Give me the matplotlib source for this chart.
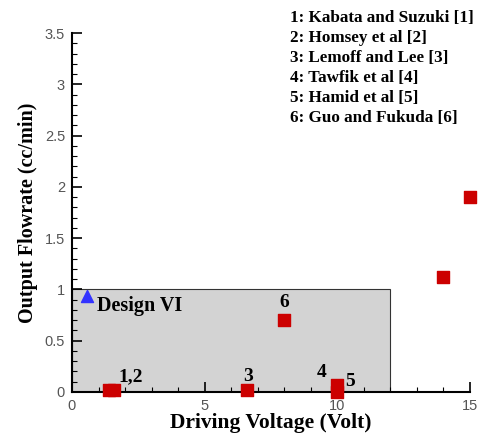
import matplotlib
matplotlib.use("Agg")
from matplotlib import pyplot as plt
from matplotlib.patches import Rectangle
from matplotlib.ticker import MultipleLocator

# literature data (squares)
lit_v = [1.4, 1.6, 6.6, 8.0, 10.0, 10.0, 14.0, 15.0]
lit_q = [0.02, 0.02, 0.02, 0.70, 0.07, 0.0, 1.12, 1.90]

# present design (triangle)
des_v = [0.55]
des_q = [0.94]

# design region box
box_v = 12.0
box_q = 1.0

# point labels
lab_text = ["1,2", "3", "4", "5", "6"]
lab_v = [2.2, 6.65, 9.4, 10.5, 8.0]
lab_q = [0.15, 0.15, 0.19, 0.10, 0.87]

refs = ["1: Kabata and Suzuki [1]", "2: Homsey et al [2]", "3: Lemoff and Lee [3]",
        "4: Tawfik et al [4]", "5: Hamid et al [5]", "6: Guo and Fukuda [6]"]

serif = "Liberation Serif"
sans = "Liberation Sans"

fig = plt.figure(figsize=(4.8, 4.37), dpi=100)
ax = fig.add_axes([0.15, 0.103, 0.829, 0.821])

ax.add_patch(Rectangle((0, 0), box_v, box_q, facecolor="#d3d3d3", edgecolor="#333333", lw=0.8, zorder=1))
ax.scatter(lit_v, lit_q, marker="s", s=80, color="#cc0000", zorder=3, clip_on=False)
ax.scatter(des_v, des_q, marker="^", s=75, color="#3333ff", zorder=3, clip_on=False)

for t, x, y in zip(lab_text, lab_v, lab_q):
    ax.text(x, y, t, ha="center", va="center", fontsize=14, fontweight="bold", family=serif, zorder=4)
ax.text(0.93, 0.84, "Design VI", ha="left", va="center", fontsize=14.5, fontweight="bold", family=serif, zorder=4)

for i, r in enumerate(refs):
    fig.text(0.604, 0.978 - i * 0.0458, r, ha="left", va="top", fontsize=12.3, fontweight="bold", family=serif)

ax.set_xlim(0, 15)
ax.set_ylim(0, 3.5)
ax.xaxis.set_minor_locator(MultipleLocator(1))
ax.yaxis.set_minor_locator(MultipleLocator(0.1))
ax.set_yticks([0, 0.5, 1, 1.5, 2, 2.5, 3, 3.5])
ax.set_yticklabels(["0", "0.5", "1", "1.5", "2", "2.5", "3", "3.5"])
ax.set_xticks([0, 5, 10, 15])
ax.set_xticklabels(["0", "5", "10", "15"])

ax.spines["top"].set_visible(False)
ax.spines["right"].set_visible(False)
ax.spines["left"].set_linewidth(1.5)
ax.spines["bottom"].set_linewidth(1.5)
ax.tick_params(which="major", direction="in", length=7, width=1.2, labelsize=10.5, labelcolor="#555555", pad=5)
ax.tick_params(which="minor", direction="in", length=3.5, width=0.8)
for lb in ax.get_xticklabels() + ax.get_yticklabels():
    lb.set_family(sans)

ax.set_xlabel("Driving Voltage (Volt)", fontsize=15.5, fontweight="bold", family=serif, labelpad=0)
ax.set_ylabel("Output Flowrate (cc/min)", fontsize=14.5, fontweight="bold", family=serif, labelpad=5)

fig.savefig("out.png", dpi=100)
